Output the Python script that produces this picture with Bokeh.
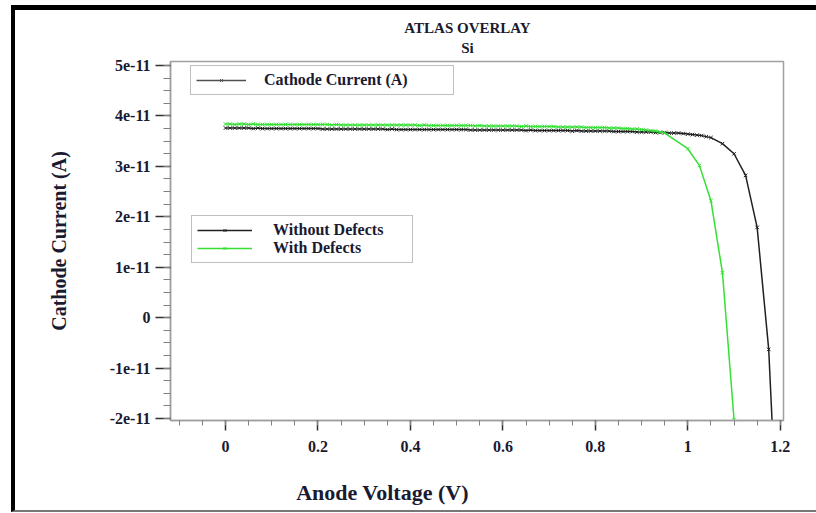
import numpy as np
from bokeh.plotting import figure
from bokeh.layouts import column
from bokeh.models import (Range1d, FixedTicker, CustomJSTickFormatter, Label,
                          Legend, LegendItem)
from bokeh.embed import file_html
from bokeh.resources import INLINE

# ---------------- data (current in units of 1e-11 A) ----------------
SCALE = 1e-11

v_without = [0.00, 0.01, 0.02, 0.03, 0.04, 0.05, 0.06, 0.07, 0.08, 0.09,
             0.10, 0.11, 0.12, 0.13, 0.14, 0.15, 0.16, 0.17, 0.18, 0.19,
             0.20, 0.21, 0.22, 0.23, 0.24, 0.25, 0.26, 0.27, 0.28, 0.29,
             0.30, 0.31, 0.32, 0.33, 0.34, 0.35, 0.36, 0.37, 0.38, 0.39,
             0.40, 0.41, 0.42, 0.43, 0.44, 0.45, 0.46, 0.47, 0.48, 0.49,
             0.50, 0.51, 0.52, 0.53, 0.54, 0.55, 0.56, 0.57, 0.58, 0.59,
             0.60, 0.61, 0.62, 0.63, 0.64, 0.65, 0.66, 0.67, 0.68, 0.69,
             0.70, 0.71, 0.72, 0.73, 0.74, 0.75, 0.76, 0.77, 0.78, 0.79,
             0.80, 0.81, 0.82, 0.83, 0.84, 0.85, 0.86, 0.87, 0.88, 0.89,
             0.90, 0.91, 0.92, 0.93, 0.94, 0.95, 0.96, 0.97, 0.98, 0.99,
             1.00, 1.01, 1.02, 1.03, 1.04, 1.05,
             1.075, 1.10, 1.125, 1.15, 1.175, 1.20]
i_without = [3.76, 3.76, 3.76, 3.76, 3.76, 3.76, 3.75, 3.76, 3.75, 3.75,
             3.75, 3.75, 3.75, 3.75, 3.75, 3.75, 3.75, 3.75, 3.75, 3.75,
             3.75, 3.74, 3.74, 3.74, 3.74, 3.74, 3.74, 3.74, 3.74, 3.74,
             3.74, 3.74, 3.74, 3.74, 3.74, 3.73, 3.74, 3.73, 3.73, 3.73,
             3.73, 3.73, 3.73, 3.73, 3.73, 3.73, 3.73, 3.73, 3.73, 3.73,
             3.73, 3.73, 3.73, 3.72, 3.72, 3.72, 3.72, 3.72, 3.72, 3.72,
             3.72, 3.72, 3.72, 3.72, 3.72, 3.71, 3.72, 3.71, 3.71, 3.71,
             3.71, 3.71, 3.71, 3.71, 3.71, 3.70, 3.71, 3.70, 3.70, 3.70,
             3.70, 3.70, 3.70, 3.70, 3.69, 3.69, 3.69, 3.69, 3.69, 3.68,
             3.68, 3.68, 3.68, 3.67, 3.67, 3.67, 3.66, 3.66, 3.66, 3.65,
             3.64, 3.63, 3.62, 3.61, 3.59, 3.57,
             3.45, 3.25, 2.82, 1.79, -0.63, -5.50]

v_with = [0.00, 0.01, 0.02, 0.03, 0.04, 0.05, 0.06, 0.07, 0.08, 0.09,
          0.10, 0.11, 0.12, 0.13, 0.14, 0.15, 0.16, 0.17, 0.18, 0.19,
          0.20, 0.21, 0.22, 0.23, 0.24, 0.25, 0.26, 0.27, 0.28, 0.29,
          0.30, 0.31, 0.32, 0.33, 0.34, 0.35, 0.36, 0.37, 0.38, 0.39,
          0.40, 0.41, 0.42, 0.43, 0.44, 0.45, 0.46, 0.47, 0.48, 0.49,
          0.50, 0.51, 0.52, 0.53, 0.54, 0.55, 0.56, 0.57, 0.58, 0.59,
          0.60, 0.61, 0.62, 0.63, 0.64, 0.65, 0.66, 0.67, 0.68, 0.69,
          0.70, 0.71, 0.72, 0.73, 0.74, 0.75, 0.76, 0.77, 0.78, 0.79,
          0.80, 0.81, 0.82, 0.83, 0.84, 0.85, 0.86, 0.87, 0.88, 0.89,
          0.90, 0.91, 0.92, 0.93, 0.94, 0.95,
          1.00, 1.025, 1.05, 1.075, 1.10]
i_with = [3.84, 3.84, 3.83, 3.84, 3.84, 3.83, 3.84, 3.83, 3.83, 3.83,
          3.83, 3.83, 3.83, 3.83, 3.83, 3.83, 3.83, 3.83, 3.83, 3.83,
          3.83, 3.83, 3.83, 3.82, 3.83, 3.82, 3.82, 3.82, 3.82, 3.82,
          3.82, 3.82, 3.82, 3.82, 3.82, 3.82, 3.82, 3.82, 3.82, 3.82,
          3.82, 3.82, 3.81, 3.82, 3.81, 3.81, 3.81, 3.81, 3.81, 3.81,
          3.81, 3.81, 3.81, 3.81, 3.80, 3.81, 3.80, 3.80, 3.80, 3.80,
          3.80, 3.80, 3.80, 3.80, 3.79, 3.80, 3.79, 3.79, 3.79, 3.79,
          3.79, 3.79, 3.78, 3.78, 3.78, 3.78, 3.78, 3.78, 3.77, 3.77,
          3.77, 3.77, 3.77, 3.76, 3.76, 3.76, 3.75, 3.75, 3.74, 3.74,
          3.73, 3.72, 3.71, 3.70, 3.68, 3.66,
          3.35, 3.02, 2.32, 0.89, -2.02]

x_ticks = [0, 0.2, 0.4, 0.6, 0.8, 1.0, 1.2]
y_ticks = [-2, -1, 0, 1, 2, 3, 4, 5]          # x 1e-11 A

title_lines = ["ATLAS OVERLAY", "Si"]
x_label = "Anode Voltage (V)"
y_label = "Cathode Current (A)"
quantity_label = "Cathode Current (A)"
series_labels = ["Without Defects", "With Defects"]

# ---------------- styling ----------------
FONT = "Liberation Serif"
TXT = "#1a1a30"
BLACK = "#202020"
GREEN = "#33e033"
FRAME = "#a0a0a0"
W = 801
BL, BR = 155, 33          # left / right borders around the plotting frame


def text_strip(height):
    """Axis-less strip; its frame spans the same pixels as the main frame and
    its x range is expressed in canvas pixels (1 unit = 1 px)."""
    f = figure(width=W, height=height, output_backend="svg", toolbar_location=None,
               x_range=Range1d(BL, W - BR), y_range=Range1d(0, height),
               x_axis_location=None, y_axis_location=None,
               min_border_left=BL, min_border_right=BR,
               min_border_top=0, min_border_bottom=0)
    f.outline_line_color = None
    f.xgrid.visible = False
    f.ygrid.visible = False
    f.background_fill_color = "white"
    f.border_fill_color = "white"
    return f


def add_text(f, x, y, text, size, align="center"):
    f.add_layout(Label(x=x, y=y, text=text, text_align=align,
                       text_baseline="middle", text_font=FONT,
                       text_font_style="bold", text_font_size=size,
                       text_color=TXT))


# ---------------- title strip ----------------
top = text_strip(44)
add_text(top, 452, 44 - 17, title_lines[0], "15px")
add_text(top, 452, 44 - 37, title_lines[1], "15px")

# ---------------- main plot ----------------
p = figure(width=W, height=411, output_backend="svg", toolbar_location=None,
           x_range=Range1d(-0.119, 1.207),
           y_range=Range1d(-2.04 * SCALE, 5.08 * SCALE),
           min_border_left=BL, min_border_right=BR,
           min_border_top=7, min_border_bottom=45)
p.background_fill_color = "white"
p.border_fill_color = "white"
p.outline_line_color = FRAME
p.outline_line_width = 1.5
p.xgrid.visible = False
p.ygrid.visible = False

# x axis
p.xaxis.ticker = FixedTicker(ticks=x_ticks,
                             minor_ticks=[round(-0.1 + 0.05 * k, 2) for k in range(27)])
p.xaxis.formatter = CustomJSTickFormatter(
    code="return (Math.round(tick*10)/10).toString();")
p.xaxis.major_tick_out = 10
p.xaxis.major_tick_in = 0
p.xaxis.minor_tick_out = 5
p.xaxis.minor_tick_in = 0
p.xaxis.major_label_standoff = 10

# y axis
p.yaxis.ticker = FixedTicker(ticks=[t * SCALE for t in y_ticks],
                             minor_ticks=[(-2 + 0.25 * k) * SCALE for k in range(29)])
p.yaxis.formatter = CustomJSTickFormatter(
    code="const k = Math.round(tick/1e-11); return k == 0 ? '0' : k + 'e-11';")
p.yaxis.major_tick_out = 15
p.yaxis.major_tick_in = 0
p.yaxis.minor_tick_out = 7
p.yaxis.minor_tick_in = 0
p.yaxis.major_label_standoff = 5
p.yaxis.axis_label = y_label
p.yaxis.axis_label_standoff = 37
p.yaxis.axis_label_text_font = FONT
p.yaxis.axis_label_text_font_style = "bold"
p.yaxis.axis_label_text_font_size = "20px"
p.yaxis.axis_label_text_color = TXT

for ax in (p.xaxis, p.yaxis):
    ax.axis_line_color = FRAME
    ax.axis_line_width = 1.5
    ax.major_tick_line_color = "#303030"
    ax.major_tick_line_width = 1.5
    ax.minor_tick_line_color = "#808080"
    ax.minor_tick_line_width = 1
    ax.major_label_text_font = FONT
    ax.major_label_text_font_style = "bold"
    ax.major_label_text_font_size = "16px"
    ax.major_label_text_color = TXT

# data series
yw = np.array(i_without) * SCALE
yg = np.array(i_with) * SCALE
l_black = p.line(v_without, yw, line_color=BLACK, line_width=1.5)
m_black = p.scatter(v_without, yw, marker="x", size=5, line_color=BLACK, line_width=1)
l_green = p.line(v_with, yg, line_color=GREEN, line_width=1.5)
m_green = p.scatter(v_with, yg, marker="x", size=5, line_color=GREEN, line_width=1)

# legend-only glyph for the plotted quantity
q_line = p.line([np.nan], [np.nan], line_color="#505050", line_width=1.5)
q_mark = p.scatter([np.nan], [np.nan], marker="x", size=7, line_color="#505050",
                   line_width=1)


def style_legend(lg):
    lg.label_text_font = FONT
    lg.label_text_font_style = "bold"
    lg.label_text_font_size = "16px"
    lg.label_text_color = TXT
    lg.border_line_color = "#808080"
    lg.border_line_width = 1.5
    lg.background_fill_color = "white"
    lg.background_fill_alpha = 1.0
    lg.padding = 5
    lg.margin = 0
    lg.label_height = 10
    lg.glyph_height = 10


leg1 = Legend(items=[LegendItem(label=quantity_label, renderers=[q_line, q_mark])],
              location=(20, 325))
style_legend(leg1)
leg1.glyph_width = 50
leg1.label_standoff = 18
leg1.label_width = 184
p.add_layout(leg1)

leg2 = Legend(items=[LegendItem(label=series_labels[0], renderers=[l_black, m_black]),
                     LegendItem(label=series_labels[1], renderers=[l_green, m_green])],
              location=(21, 157))
style_legend(leg2)
leg2.glyph_width = 55
leg2.label_standoff = 21
leg2.label_width = 134
leg2.spacing = 0
p.add_layout(leg2)

# ---------------- x-label strip ----------------
bottom = text_strip(45)
add_text(bottom, 367, 45 - 27, x_label, "22px")

layout = column(top, p, bottom, spacing=0,
                styles={"margin-left": "11px", "margin-top": "5px",
                        "border-top": "5px solid black",
                        "border-left": "4px solid black",
                        "border-bottom": "2px solid #777777"})

open("out.html", "w").write(file_html(layout, INLINE))
